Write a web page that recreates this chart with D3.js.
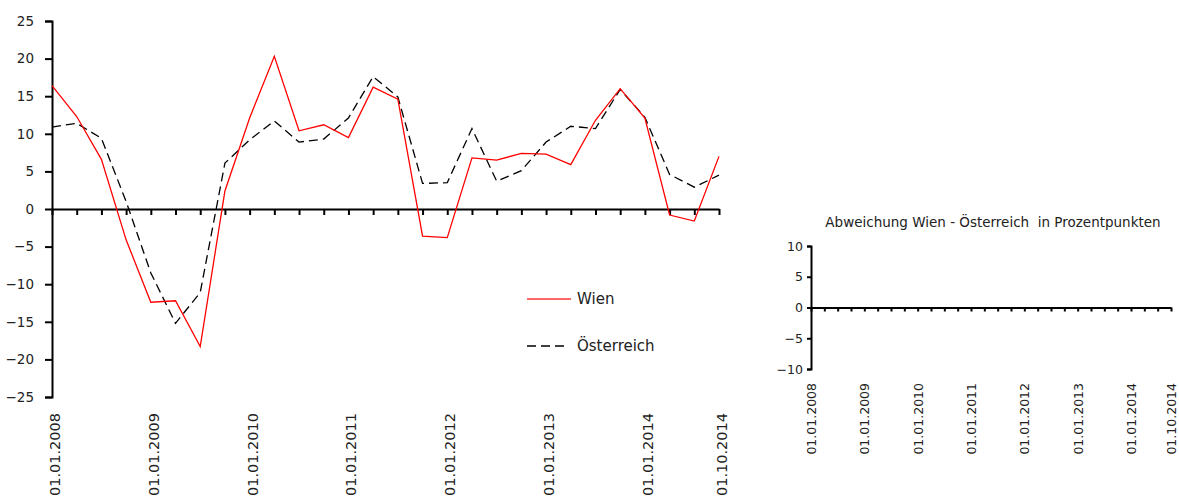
<!DOCTYPE html>
<html>
<head>
<meta charset="utf-8">
<script src="https://cdn.jsdelivr.net/npm/d3@7"></script>
<style>
  body { margin: 0; background: #fff; }
  svg { font-family: 'DejaVu Sans', sans-serif; fill: #222; }
  .axis path, .axis line { stroke: #000; stroke-width: 2; }
  .axis text { fill: #222; font-family: 'DejaVu Sans', sans-serif; }
</style>
</head>
<body>
<div class="chart-container"></div>
<script>
// data
const quarters = [
    '01.01.2008', '01.04.2008', '01.07.2008', '01.10.2008',
    '01.01.2009', '01.04.2009', '01.07.2009', '01.10.2009',
    '01.01.2010', '01.04.2010', '01.07.2010', '01.10.2010',
    '01.01.2011', '01.04.2011', '01.07.2011', '01.10.2011',
    '01.01.2012', '01.04.2012', '01.07.2012', '01.10.2012',
    '01.01.2013', '01.04.2013', '01.07.2013', '01.10.2013',
    '01.01.2014', '01.04.2014', '01.07.2014', '01.10.2014'
];
const wien = [
    16.4, 12.3, 6.6, -4.1, -12.4, -12.2, -18.3, 2.4,
    12.1, 20.3, 10.4, 11.2, 9.5, 16.2, 14.6, -3.6,
    -3.8, 6.8, 6.5, 7.4, 7.3, 5.9, 11.8, 16.0,
    12.1, -0.8, -1.6, 7.0
];
const oesterreich = [
    10.9, 11.4, 9.4, 1.0, -8.5, -15.2, -11.1, 6.1,
    9.2, 11.7, 8.9, 9.3, 12.1, 17.6, 14.9, 3.4,
    3.5, 10.7, 3.7, 5.1, 8.9, 11.0, 10.7, 15.9,
    12.2, 4.6, 2.9, 4.5
];
const tickLabels = [
    '01.01.2008', '01.01.2009', '01.01.2010', '01.01.2011',
    '01.01.2012', '01.01.2013', '01.01.2014', '01.10.2014'
];
const mainYTicks = [-25, -20, -15, -10, -5, 0, 5, 10, 15, 20, 25];
const devYTicks = [-10, -5, 0, 5, 10];
const seriesNames = ['Wien', 'Österreich'];

const svg = d3.select('.chart-container')
    .append('svg')
    .attr('width', 1179)
    .attr('height', 498);

// main chart
const xScale = d3.scalePoint().domain(quarters).range([52, 719]);
const yScale = d3.scaleLinear().domain([-25, 25]).range([397, 21]);

const lineGen = d3.line()
    .x((d, i) => xScale(quarters[i]))
    .y(d => yScale(d));

const yAxis = d3.axisLeft(yScale)
    .tickValues(mainYTicks)
    .tickFormat(d3.format('d'))
    .tickSize(7)
    .tickPadding(11);

const yAxisDraw = svg.append('g')
    .attr('class', 'axis')
    .attr('transform', 'translate(52, 0)')
    .call(yAxis);
yAxisDraw.selectAll('text').style('font-size', '13.5px');

// zero line with quarter ticks
const xAxis = d3.axisBottom(xScale)
    .tickSizeInner(6)
    .tickSizeOuter(0)
    .tickFormat('');

svg.append('g')
    .attr('class', 'axis')
    .attr('transform', `translate(0, ${yScale(0)})`)
    .call(xAxis);

// date labels
svg.append('g')
    .selectAll('text')
    .data(tickLabels)
    .join('text')
    .attr('transform', d => `translate(${xScale(d) + 8}, 413) rotate(-90)`)
    .attr('text-anchor', 'end')
    .style('font-size', '14.5px')
    .text(d => d);

// lines
svg.append('path')
    .attr('d', lineGen(oesterreich))
    .style('fill', 'none')
    .style('stroke', '#000')
    .style('stroke-width', 1.3)
    .style('stroke-dasharray', '9,5');

svg.append('path')
    .attr('d', lineGen(wien))
    .style('fill', 'none')
    .style('stroke', '#ff0000')
    .style('stroke-width', 1.3);

// legend
const legend = svg.append('g').attr('transform', 'translate(527, 299)');
legend.append('line')
    .attr('x1', 0).attr('x2', 44).attr('y1', 0).attr('y2', 0)
    .style('stroke', '#ff3333').style('stroke-width', 1.5);
legend.append('line')
    .attr('x1', 0).attr('x2', 40).attr('y1', 47).attr('y2', 47)
    .style('stroke', '#000').style('stroke-width', 1.3)
    .style('stroke-dasharray', '9,5');
legend.selectAll('text')
    .data(seriesNames)
    .join('text')
    .attr('x', 50)
    .attr('y', (d, i) => i * 47)
    .attr('dy', '0.35em')
    .style('font-size', '15px')
    .text(d => d);

// deviation chart (no data drawn)
const xDev = d3.scalePoint().domain(quarters).range([811, 1171]);
const yDev = d3.scaleLinear().domain([-10, 10]).range([369, 246]);

svg.append('text')
    .attr('x', 993)
    .attr('y', 227)
    .attr('text-anchor', 'middle')
    .style('font-size', '13.5px')
    .style('white-space', 'pre')
    .text('Abweichung Wien - Österreich  in Prozentpunkten');

const yDevDraw = svg.append('g')
    .attr('class', 'axis')
    .attr('transform', 'translate(811, 0)')
    .call(d3.axisLeft(yDev).tickValues(devYTicks).tickFormat(d3.format('d')).tickSize(4).tickPadding(4));
yDevDraw.selectAll('text').style('font-size', '12.5px');

svg.append('g')
    .attr('class', 'axis')
    .attr('transform', `translate(0, ${yDev(0)})`)
    .call(d3.axisBottom(xDev).tickSizeInner(4).tickSizeOuter(0).tickFormat(''));

svg.append('g')
    .selectAll('text')
    .data(tickLabels)
    .join('text')
    .attr('transform', d => `translate(${xDev(d) + 5}, 383) rotate(-90)`)
    .attr('text-anchor', 'end')
    .style('font-size', '12.5px')
    .text(d => d);
</script>
</body>
</html>
